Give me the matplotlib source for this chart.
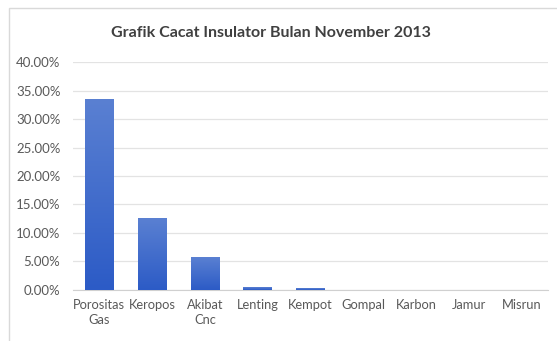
import numpy as np
import matplotlib.pyplot as plt
from matplotlib.patches import Rectangle
from matplotlib.ticker import PercentFormatter

categories = ['Porositas\nGas', 'Keropos', 'Akibat\nCnc', 'Lenting', 'Kempot',
              'Gompal', 'Karbon', 'Jamur', 'Misrun']
defect_pct = [0.335, 0.126, 0.058, 0.005, 0.002, 0.0, 0.0, 0.0, 0.0]
yticks = [0.0, 0.05, 0.10, 0.15, 0.20, 0.25, 0.30, 0.35, 0.40]

plt.rcParams['font.family'] = ['Lato', 'DejaVu Sans']

fig = plt.figure(figsize=(5.57, 3.41), dpi=100)
ax = fig.add_axes([0.131, 0.151, 0.853, 0.666])

# outer chart frame (runs off the right and bottom edges)
fig.patches.append(Rectangle((9 / 557, -0.05), 0.99, 1.05 - 8 / 341, transform=fig.transFigure,
                             fill=False, edgecolor='#d9d9d9', linewidth=1))

x = np.arange(len(categories))
bars = ax.bar(x, defect_pct, width=0.54, color='none', edgecolor='none', zorder=3)

# vertical gradient inside each bar, lighter at the top
grad = np.linspace(0, 1, 256).reshape(-1, 1)
cmap = plt.matplotlib.colors.LinearSegmentedColormap.from_list('barblue', ['#2c5bc6', '#5a80d2'])
for b in bars:
    h = b.get_height()
    if h <= 0:
        continue
    x0 = b.get_x()
    im = ax.imshow(grad, extent=[x0, x0 + b.get_width(), 0, h], origin='lower',
                   cmap=cmap, aspect='auto', zorder=3)
    im.set_clip_path(b)

ax.set_xlim(-0.5, len(categories) - 0.5)
ax.set_ylim(0, 0.40)
ax.set_yticks(yticks)
ax.yaxis.set_major_formatter(PercentFormatter(1.0, decimals=2))
ax.set_xticks(x)
ax.set_xticklabels(categories, fontsize=9.3, linespacing=1.3)

ax.grid(axis='y', color='#e3e3e3', linewidth=0.9, zorder=0)
for side in ['top', 'right', 'left']:
    ax.spines[side].set_visible(False)
ax.spines['bottom'].set_color('#d0d0d0')
ax.tick_params(axis='both', length=0, colors='#595959')
ax.tick_params(axis='y', labelsize=9.5, pad=9)
ax.tick_params(axis='x', pad=7)

fig.text(0.487, 0.903, 'Grafik Cacat Insulator Bulan November 2013', ha='center', va='center',
         fontsize=11.5, color='#404040', fontweight='bold')

fig.savefig('out.png', dpi=100)
